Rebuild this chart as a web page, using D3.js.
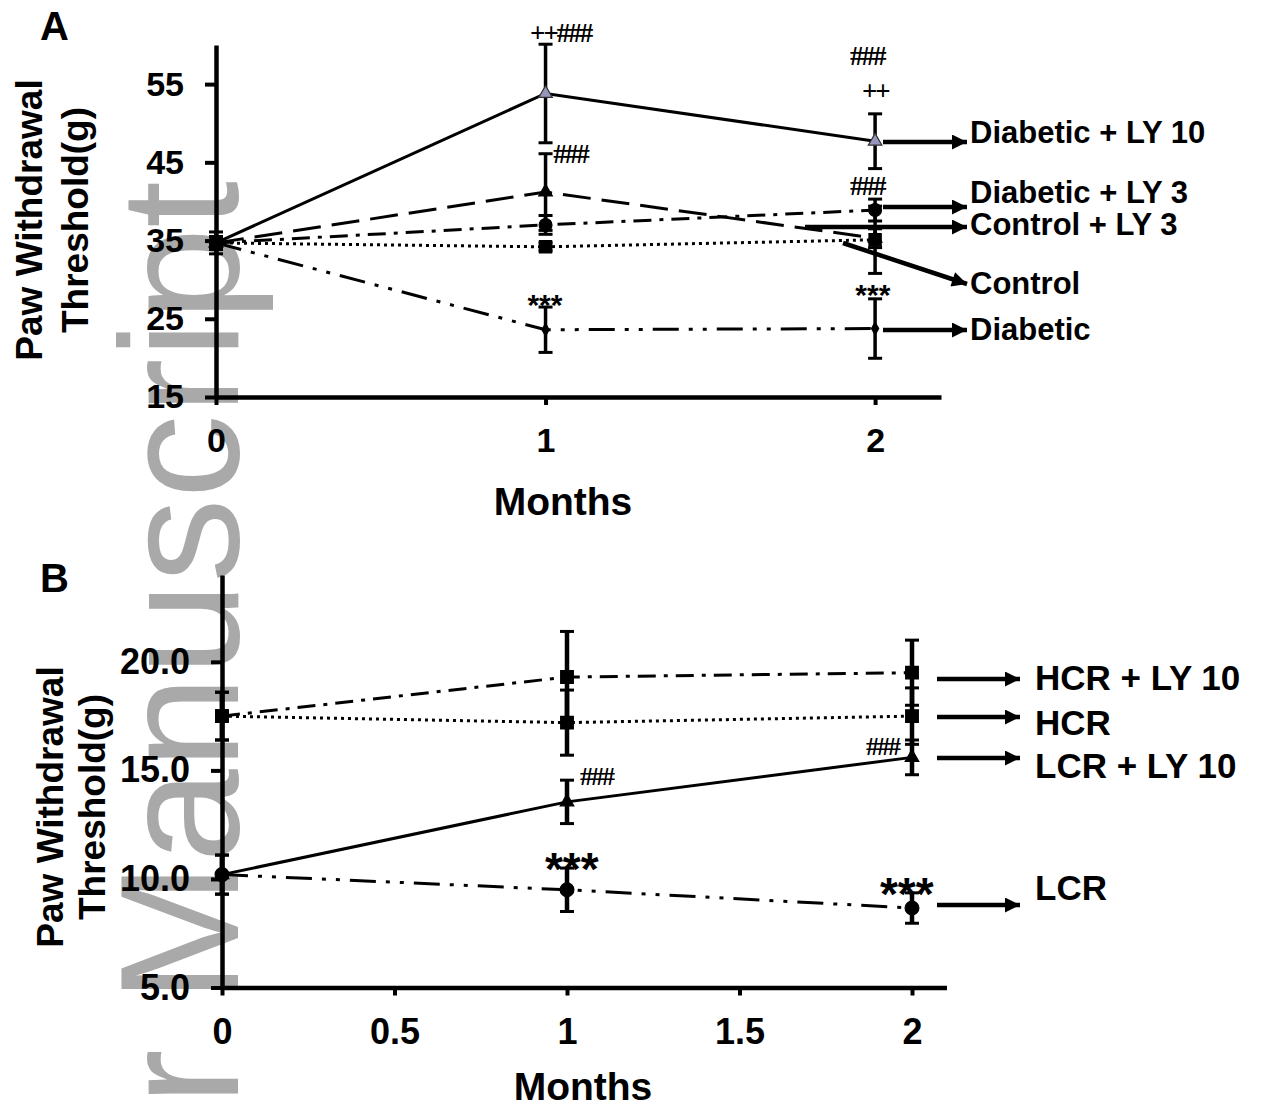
<!DOCTYPE html>
<html>
<head>
<meta charset="utf-8">
<script src="https://cdn.jsdelivr.net/npm/d3@7"></script>
<style>
  body { margin: 0; background: #fff; }
  svg { display: block; }
</style>
</head>
<body>
<svg id="chart"></svg>
<script>
const width = 1264;
const height = 1107;

// ---- panel A data (months 0,1,2) ----
const monthsA = [0, 1, 2];
const diabeticLY10 = [34.7, 53.8, 47.7];
const diabeticLY10Err = [0.8, 6.3, 3.5];
const controlLY3 = [34.7, 41.2, 35.3];
const controlLY3Err = [0.8, 4.9, 1.2];
const diabeticLY3 = [34.7, 37.0, 38.9];
const diabeticLY3Err = [0.8, 1.2, 1.4];
const control = [34.7, 34.2, 35.1];
const controlErr = [0.8, 0.5, 4.3];
const diabetic = [34.7, 23.6, 23.75];
const diabeticErr = [1.4, 2.9, 3.8];
const yTicksA = [15, 25, 35, 45, 55];
const xTicksA = [0, 1, 2];

// ---- panel B data ----
const monthsB = [0, 1, 2];
const hcrLY10 = [17.5, 19.3, 19.5];
const hcrLY10Err = [1.1, 2.1, 1.5];
const hcr = [17.5, 17.2, 17.5];
const hcrErr = [1.1, 1.5, 1.3];
const lcrLY10 = [10.2, 13.55, 15.6];
const lcrLY10Err = [0.9, 1.0, 0.8];
const lcr = [10.2, 9.5, 8.66];
const lcrErr = [0.9, 1.0, 0.7];
const yTicksB = [5, 10, 15, 20];
const xTicksB = [0, 0.5, 1, 1.5, 2];

// significance marks, in data units (baseline-left of the text)
const notesA = [
  { m: 0.953, v: 60.4, t: "++###", kind: "hash" },
  { m: 1.023, v: 44.9, t: "###", kind: "hash" },
  { m: 1.924, v: 57.4, t: "###", kind: "hash" },
  { m: 1.96, v: 53.0, t: "++", kind: "hash" },
  { m: 1.924, v: 40.8, t: "###", kind: "hash" },
  { m: 0.945, v: 25.5, t: "***", kind: "star" },
  { m: 1.94, v: 26.8, t: "***", kind: "star" },
];
const notesB = [
  { m: 1.038, v: 14.33, t: "###", kind: "hash" },
  { m: 1.867, v: 15.7, t: "###", kind: "hash" },
  { m: 0.936, v: 9.72, t: "***", kind: "bigstar" },
  { m: 1.907, v: 8.57, t: "***", kind: "bigstar" },
];

const sans = "'Liberation Sans', Arial, Helvetica, sans-serif";
const serif = "'Liberation Serif', 'Times New Roman', serif";

const svg = d3.select("#chart").attr("width", width).attr("height", height);

// watermark (behind everything)
svg.append("text")
  .attr("transform", "translate(238,181) rotate(-90)")
  .attr("text-anchor", "end")
  .attr("font-family", sans)
  .attr("font-size", 168)
  .attr("fill", "#a9a9a9")
  .text("Author Manuscript");

const defs = svg.append("defs");
defs.append("marker")
  .attr("id", "arrow")
  .attr("viewBox", "0 0 10 10")
  .attr("refX", 10)
  .attr("refY", 5)
  .attr("markerUnits", "userSpaceOnUse")
  .attr("markerWidth", 20)
  .attr("markerHeight", 15)
  .attr("orient", "auto")
  .append("path")
  .attr("d", "M0,0L10,5L0,10z")
  .attr("fill", "#000");

const dashes = {
  solid: null,
  longdash: "28,11",
  dashdot: "18,8,4,8",
  dotted: "3,4",
  dashdotdot: "26,10,4,10,4,10",
};

function drawPanel(cfg) {
  const g = svg.append("g");
  const x = d3.scaleLinear().domain(cfg.xDomain).range(cfg.xRange);
  const y = d3.scaleLinear().domain(cfg.yDomain).range(cfg.yRange);

  // axes
  const yAxis = g.append("g")
    .attr("transform", `translate(${cfg.xRange[0]},0)`)
    .call(d3.axisLeft(y).tickValues(cfg.yTicks).tickFormat(cfg.yFormat)
      .tickSize(11).tickSizeOuter(0).tickPadding(21));
  const xAxis = g.append("g")
    .attr("transform", `translate(0,${cfg.yRange[0]})`)
    .call(d3.axisBottom(x).tickValues(cfg.xTicks).tickFormat(cfg.xFormat)
      .tickSize(8).tickSizeOuter(0).tickPadding(23));
  [yAxis, xAxis].forEach((ax) => {
    ax.select(".domain").attr("stroke", "#000").attr("stroke-width", 4.5);
    ax.selectAll(".tick line").attr("stroke", "#000").attr("stroke-width", 4);
    ax.selectAll(".tick text")
      .attr("fill", "#000")
      .attr("font-family", sans)
      .attr("font-weight", "bold")
      .attr("font-size", cfg.tickFont);
  });

  // series lines
  const line = d3.line().x((d) => x(d.m)).y((d) => y(d.v));
  cfg.series.forEach((s) => {
    const pts = cfg.months.map((m, i) => ({ m, v: s.values[i], e: s.err[i] }));
    g.append("path")
      .datum(pts)
      .attr("d", line)
      .attr("fill", "none")
      .attr("stroke", "#000")
      .attr("stroke-width", 3)
      .attr("stroke-dasharray", dashes[s.dash]);

    // error bars
    const eb = g.append("g").selectAll("g").data(pts).enter().append("g");
    eb.append("line")
      .attr("x1", (d) => x(d.m)).attr("x2", (d) => x(d.m))
      .attr("y1", (d) => y(d.v - d.e)).attr("y2", (d) => y(d.v + d.e))
      .attr("stroke", "#000").attr("stroke-width", cfg.errWidth);
    [-1, 1].forEach((sgn) => {
      eb.append("line")
        .attr("x1", (d) => x(d.m) - 7).attr("x2", (d) => x(d.m) + 7)
        .attr("y1", (d) => y(d.v + sgn * d.e)).attr("y2", (d) => y(d.v + sgn * d.e))
        .attr("stroke", "#000").attr("stroke-width", 3);
    });

    // markers
    g.append("g").selectAll("path").data(pts).enter().append("path")
      .attr("transform", (d) => `translate(${x(d.m)},${y(d.v)})`)
      .attr("d", d3.symbol().type(s.symbol).size(s.size))
      .attr("fill", s.fill || "#000")
      .attr("stroke", s.stroke || "#000")
      .attr("stroke-width", 1.2);
  });

  // significance notes
  g.append("g").selectAll("text").data(cfg.notes).enter().append("text")
    .attr("x", (d) => x(d.m))
    .attr("y", (d) => y(d.v))
    .attr("font-family", (d) => (d.kind === "hash" ? serif : sans))
    .attr("font-weight", "bold")
    .attr("font-size", (d) => (d.kind === "hash" ? cfg.hashFont : d.kind === "star" ? 30 : 46))
    .attr("letter-spacing", (d) => (d.kind === "hash" ? -2 : 0))
    .text((d) => d.t);

  // arrows + group labels
  cfg.labels.forEach((l) => {
    g.append("line")
      .attr("x1", l.from[0]).attr("y1", l.from[1])
      .attr("x2", l.to[0]).attr("y2", l.to[1])
      .attr("stroke", "#000").attr("stroke-width", 4.5)
      .attr("marker-end", "url(#arrow)");
    g.append("text")
      .attr("x", cfg.labelX).attr("y", l.baseline)
      .attr("font-family", sans)
      .attr("font-weight", "bold")
      .attr("font-size", cfg.labelFont)
      .text(l.name);
  });

  // axis titles
  g.append("text")
    .attr("x", cfg.monthsX).attr("y", cfg.monthsY)
    .attr("text-anchor", "middle")
    .attr("font-family", sans).attr("font-weight", "bold").attr("font-size", 39)
    .text("Months");
  const yt = g.append("text")
    .attr("transform", `translate(0,${cfg.titleY}) rotate(-90)`)
    .attr("text-anchor", "middle")
    .attr("font-family", sans).attr("font-weight", "bold").attr("font-size", 37);
  yt.append("tspan").attr("x", 0).attr("y", cfg.titleX[0]).text("Paw Withdrawal");
  yt.append("tspan").attr("x", 0).attr("y", cfg.titleX[1]).text("Threshold(g)");

  g.append("text")
    .attr("x", 40).attr("y", cfg.letterY)
    .attr("font-family", sans).attr("font-weight", "bold").attr("font-size", 40)
    .text(cfg.letter);
}

drawPanel({
  letter: "A",
  letterY: 40,
  months: monthsA,
  xDomain: [0, 2.2],
  xRange: [216, 941],
  yDomain: [15, 60],
  yRange: [397, 45],
  yTicks: yTicksA,
  xTicks: xTicksA,
  yFormat: d3.format("d"),
  xFormat: d3.format("d"),
  tickFont: 34,
  hashFont: 27,
  errWidth: 3.5,
  series: [
    { values: diabeticLY10, err: diabeticLY10Err, dash: "solid", symbol: d3.symbolTriangle, size: 80, fill: "#9797bd", stroke: "#333" },
    { values: controlLY3, err: controlLY3Err, dash: "longdash", symbol: d3.symbolTriangle, size: 80 },
    { values: diabeticLY3, err: diabeticLY3Err, dash: "dashdot", symbol: d3.symbolCircle, size: 130 },
    { values: control, err: controlErr, dash: "dotted", symbol: d3.symbolSquare, size: 150 },
    { values: diabetic, err: diabeticErr, dash: "dashdotdot", symbol: d3.symbolDiamond, size: 45 },
  ],
  notes: notesA,
  labelX: 970,
  labelFont: 31,
  labels: [
    { name: "Diabetic + LY 10", baseline: 143, from: [883, 142], to: [967, 142] },
    { name: "Diabetic + LY 3", baseline: 203, from: [883, 207], to: [967, 207] },
    { name: "Control + LY 3", baseline: 235, from: [805, 227], to: [967, 227] },
    { name: "Control", baseline: 294, from: [843, 243], to: [967, 284] },
    { name: "Diabetic", baseline: 340, from: [883, 330], to: [967, 330] },
  ],
  monthsX: 563,
  monthsY: 515,
  titleY: 220,
  titleX: [42, 88],
});

drawPanel({
  letter: "B",
  letterY: 592,
  months: monthsB,
  xDomain: [0, 2.1],
  xRange: [222, 946.5],
  yDomain: [5, 24],
  yRange: [987.5, 575],
  yTicks: yTicksB,
  xTicks: xTicksB,
  yFormat: d3.format(".1f"),
  xFormat: (d) => String(d),
  tickFont: 36,
  hashFont: 26,
  errWidth: 4.5,
  series: [
    { values: hcrLY10, err: hcrLY10Err, dash: "dashdot", symbol: d3.symbolSquare, size: 160 },
    { values: hcr, err: hcrErr, dash: "dotted", symbol: d3.symbolSquare, size: 160 },
    { values: lcrLY10, err: lcrLY10Err, dash: "solid", symbol: d3.symbolTriangle, size: 80 },
    { values: lcr, err: lcrErr, dash: "dashdotdot", symbol: d3.symbolCircle, size: 150 },
  ],
  notes: notesB,
  labelX: 1035,
  labelFont: 35,
  labels: [
    { name: "HCR + LY 10", baseline: 690, from: [937, 679], to: [1020, 679] },
    { name: "HCR", baseline: 735, from: [937, 717], to: [1020, 717] },
    { name: "LCR + LY 10", baseline: 778, from: [937, 758], to: [1020, 758] },
    { name: "LCR", baseline: 900, from: [937, 905], to: [1020, 905] },
  ],
  monthsX: 583,
  monthsY: 1100,
  titleY: 807,
  titleX: [63, 105],
});
</script>
</body>
</html>
